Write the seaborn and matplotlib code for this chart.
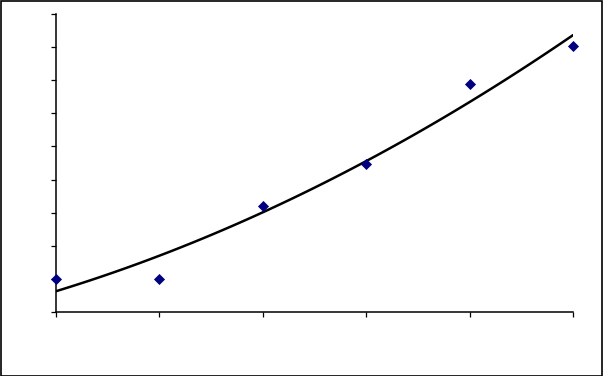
import matplotlib
matplotlib.use("Agg")
import matplotlib.pyplot as plt
import seaborn as sns
import numpy as np
import pandas as pd
from matplotlib.patches import Rectangle

# data (arbitrary units)
x_vals = [0, 1, 2, 3, 4, 5]
y_vals = [1.0, 1.0, 3.2, 4.47, 6.89, 8.04]
x_ticks = [0, 1, 2, 3, 4, 5]
y_ticks = [0, 1, 2, 3, 4, 5, 6, 7, 8, 9]

df = pd.DataFrame({"x": x_vals, "y": y_vals})

sns.set_style("ticks")
fig = plt.figure(figsize=(6.03, 3.76), dpi=100)
ax = fig.add_axes([56/603, (376-312)/376, (573-56)/603, (312-14)/376])

sns.regplot(data=df, x="x", y="y", order=2, ci=None, ax=ax, marker="D",
            scatter_kws=dict(color="#000080", s=32, alpha=1, linewidths=0,
                             clip_on=False, zorder=3),
            line_kws=dict(color="black", lw=1.8, zorder=2))

ax.set_xlim(0, 5)
ax.set_ylim(0, 9)
ax.set_xticks(x_ticks)
ax.set_yticks(y_ticks)
ax.set_xticklabels([])
ax.set_yticklabels([])
ax.set_xlabel("")
ax.set_ylabel("")
ax.tick_params(direction="out", length=3.6, width=0.9, color="black")
for s in ["top", "right"]:
    ax.spines[s].set_visible(False)
for s in ["left", "bottom"]:
    ax.spines[s].set_linewidth(1.1)
    ax.spines[s].set_color("black")

fig.patches.append(Rectangle((0.001, 0.001), 0.997, 0.996, transform=fig.transFigure,
                             fill=False, edgecolor="black", lw=1.2))

fig.savefig("out.png", dpi=100, facecolor="white")
